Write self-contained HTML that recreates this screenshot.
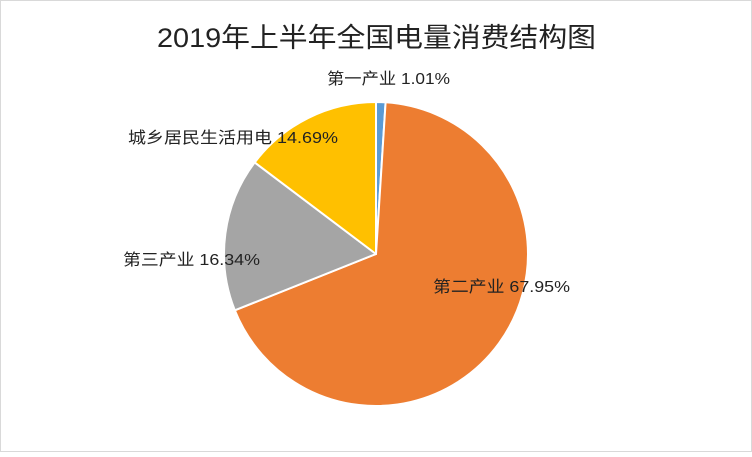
<!DOCTYPE html>
<html><head><meta charset="utf-8"><style>
body{margin:0;background:#fff;}
svg text{font-family:"Liberation Sans","Noto Sans CJK SC",sans-serif;fill:#222;}
</style></head><body>
<svg width="752" height="452" viewBox="0 0 752 452" xmlns="http://www.w3.org/2000/svg">
<rect x="0.5" y="0.5" width="751" height="451" fill="#fff" stroke="#d9d9d9"/>
<text x="157" y="47" font-size="27" textLength="439" lengthAdjust="spacingAndGlyphs">2019年上半年全国电量消费结构图</text>
<g stroke="#fff" stroke-width="2" stroke-linejoin="round">
<path d="M376,254 L376,102 A152,152 0 0 1 385.6,102.3 Z" fill="#5b9bd5"/>
<path d="M376,254 L385.6,102.3 A152,152 0 1 1 234.8,310.3 Z" fill="#ed7d31"/>
<path d="M376,254 L234.8,310.3 A152,152 0 0 1 254.7,162.4 Z" fill="#a5a5a5"/>
<path d="M376,254 L254.7,162.4 A152,152 0 0 1 376,102 Z" fill="#ffc000"/>
</g>
<g font-size="16">
<text x="327" y="84" textLength="123" lengthAdjust="spacingAndGlyphs">第一产业 1.01%</text>
<text x="128" y="143" textLength="210" lengthAdjust="spacingAndGlyphs">城乡居民生活用电 14.69%</text>
<text x="123" y="265" textLength="137" lengthAdjust="spacingAndGlyphs">第三产业 16.34%</text>
<text x="433" y="292" textLength="137" lengthAdjust="spacingAndGlyphs">第二产业 67.95%</text>
</g>
</svg>
</body></html>
